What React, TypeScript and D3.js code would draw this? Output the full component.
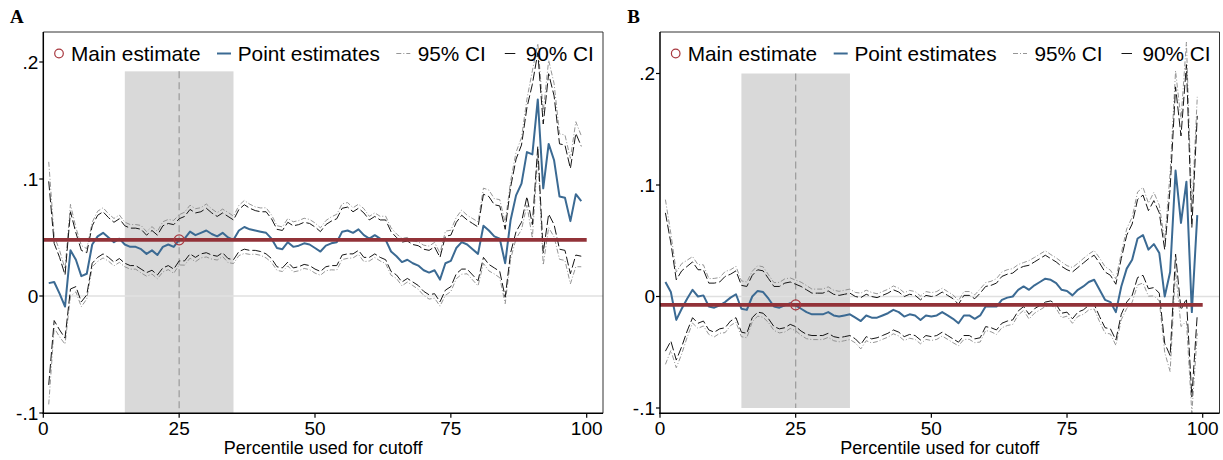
import React from "react";
import * as d3 from "d3";

const percentiles = d3.range(1, 100);
const xTicks = [0, 25, 50, 75, 100];
const yTicks = [-0.1, 0, 0.1, 0.2];
const yTickLabels = ["-.1", "0", ".1", ".2"];
const legendLabels = ["Main estimate", "Point estimates", "95% CI", "90% CI"];

const estA = [
  0.011, 0.012, 0.002, -0.009, 0.039, 0.031, 0.017, 0.019, 0.044, 0.051,
  0.054, 0.05, 0.046, 0.049, 0.044, 0.042, 0.042, 0.04, 0.036, 0.039,
  0.035, 0.042, 0.044, 0.042, 0.048, 0.049, 0.055, 0.052, 0.054, 0.056,
  0.053, 0.051, 0.054, 0.05, 0.048, 0.056, 0.059, 0.057, 0.056, 0.055,
  0.054, 0.049, 0.041, 0.04, 0.046, 0.042, 0.043, 0.045, 0.044, 0.041,
  0.038, 0.043, 0.045, 0.046, 0.055, 0.056, 0.054, 0.057, 0.052, 0.049,
  0.052, 0.049, 0.048, 0.038, 0.034, 0.029, 0.031, 0.028, 0.026, 0.022,
  0.02, 0.022, 0.014, 0.028, 0.03, 0.041, 0.046, 0.044, 0.04, 0.036,
  0.06, 0.056, 0.051, 0.049, 0.028, 0.065, 0.086, 0.096, 0.123, 0.121,
  0.168, 0.092, 0.13, 0.116, 0.085, 0.084, 0.064, 0.087, 0.081,
];
// half-width of the 90% confidence interval
const half90A = [
  0.087, 0.033, 0.031, 0.027, 0.033, 0.023, 0.022, 0.018, 0.016, 0.018,
  0.018, 0.017, 0.017, 0.017, 0.016, 0.016, 0.016, 0.017, 0.016, 0.017,
  0.017, 0.018, 0.018, 0.019, 0.018, 0.019, 0.019, 0.019, 0.018, 0.019,
  0.018, 0.017, 0.017, 0.018, 0.017, 0.018, 0.019, 0.018, 0.017, 0.017,
  0.018, 0.017, 0.016, 0.016, 0.017, 0.018, 0.018, 0.018, 0.018, 0.018,
  0.017, 0.018, 0.019, 0.02, 0.02, 0.02, 0.018, 0.018, 0.019, 0.016,
  0.016, 0.016, 0.017, 0.017, 0.016, 0.017, 0.016, 0.016, 0.017, 0.018,
  0.019, 0.02, 0.019, 0.023, 0.022, 0.022, 0.023, 0.021, 0.022, 0.023,
  0.027, 0.029, 0.027, 0.028, 0.029, 0.028, 0.031, 0.033, 0.038, 0.06,
  0.04, 0.055, 0.06, 0.055, 0.045, 0.045, 0.045, 0.052, 0.047,
];
const estB = [
  0.013, 0.004, -0.021, -0.011, -0.002, 0.006, 0.0, 0.001, -0.009, -0.01,
  -0.008, -0.005, -0.001, 0.002, -0.011, -0.012, 0.0, 0.005, 0.004, -0.002,
  -0.009, -0.01, -0.008, -0.006, -0.008, -0.011, -0.014, -0.016, -0.016, -0.016,
  -0.014, -0.017, -0.018, -0.017, -0.016, -0.019, -0.022, -0.017, -0.019, -0.019,
  -0.017, -0.015, -0.012, -0.014, -0.018, -0.016, -0.017, -0.021, -0.017, -0.018,
  -0.017, -0.014, -0.017, -0.02, -0.024, -0.017, -0.017, -0.02, -0.017, -0.009,
  -0.009, -0.009, -0.003, -0.001, 0.0, 0.006, 0.009, 0.006, 0.01, 0.013,
  0.016, 0.015, 0.012, 0.006, 0.005, 0.001, 0.006, 0.009, 0.013, 0.015,
  0.006, -0.003, -0.005, -0.014, 0.009, 0.025, 0.033, 0.052, 0.055, 0.042,
  0.047, 0.039, 0.0, 0.022, 0.113, 0.066, 0.103, -0.014, 0.073,
];
const half90B = [
  0.062, 0.044, 0.036, 0.034, 0.029, 0.025, 0.024, 0.023, 0.021, 0.022,
  0.021, 0.023, 0.021, 0.021, 0.021, 0.021, 0.019, 0.019, 0.019, 0.018,
  0.018, 0.019, 0.02, 0.019, 0.019, 0.02, 0.02, 0.019, 0.019, 0.019,
  0.019, 0.019, 0.019, 0.019, 0.019, 0.019, 0.021, 0.019, 0.019, 0.018,
  0.018, 0.018, 0.018, 0.018, 0.018, 0.018, 0.018, 0.018, 0.018, 0.018,
  0.018, 0.018, 0.018, 0.018, 0.017, 0.018, 0.018, 0.018, 0.02, 0.018,
  0.019, 0.021, 0.021, 0.021, 0.021, 0.019, 0.018, 0.022, 0.021, 0.021,
  0.021, 0.019, 0.019, 0.021, 0.019, 0.021, 0.02, 0.021, 0.021, 0.022,
  0.024, 0.025, 0.024, 0.025, 0.025, 0.03, 0.032, 0.035, 0.036, 0.035,
  0.039, 0.036, 0.042, 0.075, 0.075, 0.078, 0.105, 0.076, 0.089,
];

const mainEstA = 0.048;
const mainEstB = -0.0075;
const mainPctl = 25;
const bandPctl = [15, 35];
const bandTopA = 0.192;
const bandTopB = 0.2;
const z90 = 1.645;
const z95 = 1.96;

const BLUE = "#3b6a93";
const RED = "#923238";
const FONT = "'Liberation Sans', Arial, Helvetica, sans-serif";

type PanelProps = {
  letter: string;
  letterX: number;
  left: number;
  right: number;
  x100: number;
  yRange: [number, number];
  est: number[];
  half90: number[];
  mainEst: number;
  bandTop: number;
};

function Panel(p: PanelProps) {
  const top = 32;
  const bottom = 413.3;
  const x = d3.scaleLinear().domain([0, 100]).range([p.left, p.x100]);
  const y = d3.scaleLinear().domain([-0.1, 0.2]).range(p.yRange);
  const rows = percentiles.map((pc, i) => ({
    p: pc,
    b: p.est[i],
    se: p.half90[i] / z90,
  }));
  const line = (f: (r: any) => number) =>
    d3
      .line<any>()
      .x((r) => x(r.p))
      .y((r) => y(f(r)))(rows) as string;

  const ci95Style = { stroke: "#8a8a8a", strokeWidth: 0.9, strokeDasharray: "5 2 1 2", fill: "none" };
  const ci90Style = { stroke: "#151515", strokeWidth: 1, strokeDasharray: "9 3", fill: "none" };

  const legY = 53.5;
  const L = p.left;
  return (
    <g>
      <text x={p.letterX} y={22.7} fontFamily="'Liberation Serif', 'Times New Roman', serif" fontWeight="bold" fontSize={19}>
        {p.letter}
      </text>
      {/* band */}
      <rect
        x={x(bandPctl[0])}
        y={y(p.bandTop)}
        width={x(bandPctl[1]) - x(bandPctl[0])}
        height={y(-0.1) - y(p.bandTop)}
        fill="#d9d9d9"
      />
      {/* zero line */}
      <line x1={L} x2={p.right} y1={y(0)} y2={y(0)} stroke="#e0e0e0" strokeWidth={1.6} />
      {/* vertical dashed */}
      <line
        x1={x(mainPctl)}
        x2={x(mainPctl)}
        y1={y(p.bandTop)}
        y2={y(-0.1)}
        stroke="#9a9a9a"
        strokeWidth={1.2}
        strokeDasharray="7 4"
      />
      <path d={line((r) => r.b + z95 * r.se)} style={ci95Style} />
      <path d={line((r) => r.b - z95 * r.se)} style={ci95Style} />
      <path d={line((r) => r.b + z90 * r.se)} style={ci90Style} />
      <path d={line((r) => r.b - z90 * r.se)} style={ci90Style} />
      <path d={line((r) => r.b)} fill="none" stroke={BLUE} strokeWidth={2} strokeLinejoin="round" />
      <line x1={x(0)} x2={x(100)} y1={y(p.mainEst)} y2={y(p.mainEst)} stroke={RED} strokeWidth={3.8} />
      <circle cx={x(mainPctl)} cy={y(p.mainEst)} r={5} fill="none" stroke="#a8383f" strokeWidth={1.2} />
      {/* frame */}
      <line x1={L} x2={p.right} y1={top} y2={top} stroke="#333" strokeWidth={1} />
      <line x1={p.right} x2={p.right} y1={top} y2={bottom} stroke="#333" strokeWidth={1} />
      <line x1={L} x2={L} y1={top} y2={bottom + 0.7} stroke="#000" strokeWidth={1.5} />
      <line x1={L - 0.7} x2={p.right} y1={bottom} y2={bottom} stroke="#000" strokeWidth={1.5} />
      {yTicks.map((t, i) => (
        <g key={"y" + i}>
          <line x1={L - 4} x2={L} y1={y(t)} y2={y(t)} stroke="#000" strokeWidth={1.2} />
          <text x={L - 5} y={y(t) + 6.6} textAnchor="end" fontFamily={FONT} fontSize={19}>
            {yTickLabels[i]}
          </text>
        </g>
      ))}
      {xTicks.map((t) => (
        <g key={"x" + t}>
          <line x1={x(t)} x2={x(t)} y1={bottom} y2={bottom + 4.5} stroke="#000" strokeWidth={1.2} />
          <text x={x(t)} y={435} textAnchor="middle" fontFamily={FONT} fontSize={19}>
            {t}
          </text>
        </g>
      ))}
      <text x={(L + p.right) / 2} y={454} textAnchor="middle" fontFamily={FONT} fontSize={18}>
        Percentile used for cutoff
      </text>
      {/* legend */}
      <circle cx={L + 15.7} cy={legY} r={4.3} fill="none" stroke="#a8383f" strokeWidth={1.2} />
      <text x={L + 27.7} y={legY + 7.8} fontFamily={FONT} fontSize={20.8}>
        {legendLabels[0]}
      </text>
      <line x1={L + 173.7} x2={L + 187.7} y1={legY} y2={legY} stroke={BLUE} strokeWidth={2} />
      <text x={L + 194.4} y={legY + 7.8} fontFamily={FONT} fontSize={20.8}>
        {legendLabels[1]}
      </text>
      <line x1={L + 353} x2={L + 367} y1={legY} y2={legY} style={ci95Style} />
      <text x={L + 374.4} y={legY + 7.8} fontFamily={FONT} fontSize={20.8}>
        {legendLabels[2]}
      </text>
      <line x1={L + 461.5} x2={L + 472} y1={legY} y2={legY} stroke="#151515" strokeWidth={1} />
      <text x={L + 482.4} y={legY + 7.8} fontFamily={FONT} fontSize={20.8}>
        {legendLabels[3]}
      </text>
    </g>
  );
}

export default function App() {
  return (
    <svg
      width={1223}
      height={460}
      viewBox="0 0 1223 460"
      style={{ position: "absolute", left: 0, top: 0, background: "#fff" }}
    >
      <rect width={1223} height={460} fill="#fff" />
      <Panel
        letter="A"
        letterX={10}
        left={43.3}
        right={603}
        x100={586.7}
        yRange={[413, 62]}
        est={estA}
        half90={half90A}
        mainEst={mainEstA}
        bandTop={bandTopA}
      />
      <Panel
        letter="B"
        letterX={627.3}
        left={660}
        right={1219.5}
        x100={1202.7}
        yRange={[408, 73.5]}
        est={estB}
        half90={half90B}
        mainEst={mainEstB}
        bandTop={bandTopB}
      />
    </svg>
  );
}
